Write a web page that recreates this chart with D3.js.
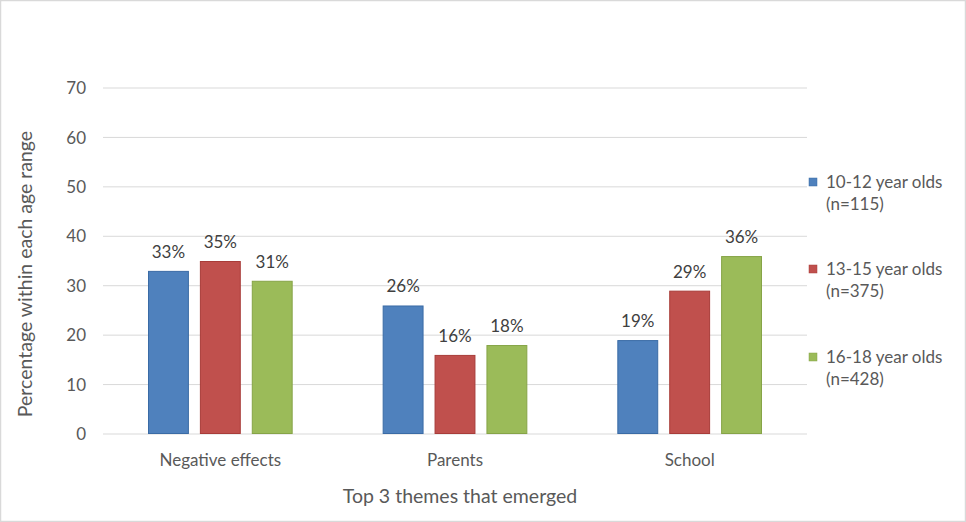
<!DOCTYPE html>
<html><head><meta charset="utf-8">
<script src="https://cdn.jsdelivr.net/npm/d3@7"></script>
<style>html,body{margin:0;padding:0;background:#fff;}svg{display:block;}</style>
</head><body>
<svg id="c" width="966" height="522"></svg>
<script>
const categories = ["Negative effects", "Parents", "School"];
const seriesNames = ["10-12 year olds", "13-15 year olds", "16-18 year olds"];
const seriesN = ["(n=115)", "(n=375)", "(n=428)"];
const values1012 = [33, 26, 19];
const values1315 = [35, 16, 29];
const values1618 = [31, 18, 36];
const yTicks = [0, 10, 20, 30, 40, 50, 60, 70];
const colors = ["#4F81BD", "#C0504D", "#9BBB59"];
const strokes = ["#3A6BA5", "#A83C39", "#86A447"];

(function(){
const allValues = [values1012, values1315, values1618];
const svg = d3.select("#c");
const font = "Lato, 'Open Sans', sans-serif";
const fs = 17;

svg.append("rect").attr("x",0.5).attr("y",0.5).attr("width",965).attr("height",521)
  .attr("fill","#fff").attr("stroke","#D9D9D9").attr("stroke-width",1.5);

const pLeft = 103, pRight = 807, pTop = 88, pBottom = 434;
const x0 = d3.scaleBand().domain(categories).range([pLeft, pRight]);
const step = x0.bandwidth();
const x1 = d3.scaleBand().domain(seriesNames).range([45, step - 45]).paddingInner(0.212);
const y = d3.scaleLinear().domain([0, 70]).range([pBottom, pTop]);

svg.append("g").selectAll("line").data(yTicks).join("line")
  .attr("x1", pLeft).attr("x2", pRight)
  .attr("y1", d => y(d)).attr("y2", d => y(d))
  .attr("stroke", "#D9D9D9").attr("stroke-width", 1);

svg.append("g").selectAll("text").data(yTicks).join("text")
  .attr("x", 86).attr("y", d => y(d)).attr("dy", "0.36em")
  .attr("text-anchor", "end").attr("font-family", font).attr("font-size", fs)
  .attr("fill", "#595959").text(d => d);

seriesNames.forEach((s, si) => {
  const g = svg.append("g");
  g.selectAll("rect").data(categories).join("rect")
    .attr("x", (c) => x0(c) + x1(s) + 0.5)
    .attr("y", (c, i) => y(allValues[si][i]) + 0.5)
    .attr("width", x1.bandwidth() - 1)
    .attr("height", (c, i) => y(0) - y(allValues[si][i]) - 1)
    .attr("fill", colors[si]).attr("stroke", strokes[si]).attr("stroke-width", 1);
  g.selectAll("text").data(categories).join("text")
    .attr("x", (c) => x0(c) + x1(s) + x1.bandwidth() / 2)
    .attr("y", (c, i) => y(allValues[si][i]) - 13)
    .attr("text-anchor", "middle").attr("font-family", font).attr("font-size", fs)
    .attr("fill", "#404040").text((c, i) => allValues[si][i] + "%");
});

svg.append("g").selectAll("text").data(categories).join("text")
  .attr("x", c => x0(c) + step / 2).attr("y", 466)
  .attr("text-anchor", "middle").attr("font-family", font).attr("font-size", fs)
  .attr("fill", "#595959").text(c => c);

svg.append("text").attr("x", 460).attr("y", 503).attr("text-anchor", "middle")
  .attr("font-family", font).attr("font-size", 19.5).attr("fill", "#595959")
  .text("Top 3 themes that emerged");
svg.append("text").attr("transform", "translate(32,274) rotate(-90)").attr("text-anchor", "middle")
  .attr("font-family", font).attr("font-size", 19.5).attr("fill", "#595959")
  .text("Percentage within each age range");

const legY = [182, 269, 357];
seriesNames.forEach((s, i) => {
  svg.append("rect").attr("x", 809).attr("y", legY[i] - 4).attr("width", 8).attr("height", 8)
    .attr("fill", colors[i]).attr("stroke", strokes[i]).attr("stroke-width", 0.5);
  svg.append("text").attr("x", 826).attr("y", legY[i]).attr("dy", "0.36em")
    .attr("font-family", font).attr("font-size", fs).attr("fill", "#595959").text(s);
  svg.append("text").attr("x", 826).attr("y", legY[i] + 22).attr("dy", "0.36em")
    .attr("font-family", font).attr("font-size", fs).attr("fill", "#595959").text(seriesN[i]);
});
})();
</script>
</body></html>
